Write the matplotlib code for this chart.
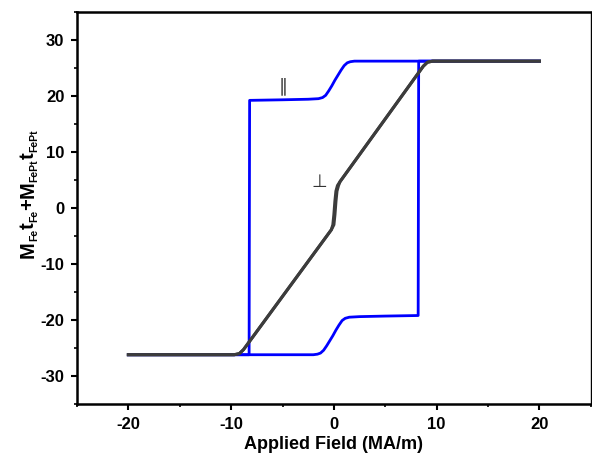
import matplotlib
matplotlib.use("Agg")
import matplotlib.pyplot as plt
from matplotlib.ticker import MultipleLocator

plt.rcParams['font.family'] = ['Liberation Sans', 'DejaVu Sans']
plt.rcParams['axes.unicode_minus'] = False

# Parallel (blue) loop: descending branch then ascending branch
par_down_x = [20, 2.0, 1.6, 1.3, 1.0, 0.7, 0.4, 0.1, -0.2, -0.5, -0.8, -1.1, -1.5, -2.5, -5.0, -8.2, -8.25, -20]
par_down_y = [26.2, 26.2, 26.1, 25.9, 25.4, 24.6, 23.7, 22.8, 21.8, 20.9, 20.1, 19.7, 19.5, 19.4, 19.3, 19.2, -26.2, -26.2]
par_up_x = [-20, -2.0, -1.6, -1.3, -1.0, -0.7, -0.4, -0.1, 0.2, 0.5, 0.8, 1.1, 1.5, 2.5, 5.0, 8.2, 8.25, 20]
par_up_y = [-26.2, -26.2, -26.1, -25.9, -25.4, -24.6, -23.7, -22.8, -21.8, -20.9, -20.1, -19.7, -19.5, -19.4, -19.3, -19.2, 26.2, 26.2]

# Perpendicular (gray) loop
perp_up_x = [-20, -9.7, -9.2, -8.8, -0.25, -0.1, 0.0, 0.1, 0.2, 0.35, 0.6, 8.7, 9.1, 9.6, 20]
perp_up_y = [-26.2, -26.2, -26.0, -25.3, -3.9, -3.0, -1.2, 1.2, 3.0, 4.0, 4.7, 25.3, 26.0, 26.2, 26.2]
perp_dn_x = [20, 9.6, 9.1, 8.7, 0.6, 0.45, 0.3, 0.2, 0.1, 0.0, -0.25, -8.8, -9.2, -9.7, -20]
perp_dn_y = [26.2, 26.2, 26.0, 25.3, 4.7, 4.0, 3.0, 1.2, -1.2, -3.0, -3.9, -25.3, -26.0, -26.2, -26.2]

xticks = [-20, -10, 0, 10, 20]
yticks = [-30, -20, -10, 0, 10, 20, 30]

# y-label pieces: (text, is_subscript)
ylabel_parts = [('M', False), ('Fe', True), ('t', False), ('Fe', True), ('+', False),
                ('M', False), ('FePt', True), ('t', False), ('FePt', True)]

fig = plt.figure(figsize=(5.92, 4.55), dpi=100)
ax = fig.add_axes([0.130, 0.112, 0.868, 0.862])

ax.plot(par_down_x, par_down_y, color='#0000ff', lw=2.0, solid_joinstyle='round')
ax.plot(par_up_x, par_up_y, color='#0000ff', lw=2.0, solid_joinstyle='round')
ax.plot(perp_up_x, perp_up_y, color='#3c3c3c', lw=2.2, solid_joinstyle='round')
ax.plot(perp_dn_x, perp_dn_y, color='#3c3c3c', lw=2.2, solid_joinstyle='round')

ax.text(-4.9, 21.8, '\u2225', fontsize=13, color='#333333', ha='center', va='center', family=['DejaVu Sans'])
ax.text(-1.45, 4.6, '\u22a5', fontsize=13, color='#333333', ha='center', va='center', family=['DejaVu Sans'])

ax.set_xlim(-25, 25)
ax.set_ylim(-35, 35)
ax.set_xticks(xticks)
ax.set_yticks(yticks)
ax.xaxis.set_minor_locator(MultipleLocator(5))
ax.yaxis.set_minor_locator(MultipleLocator(5))
ax.tick_params(which='major', direction='out', length=4.5, width=1.5, labelsize=12)
ax.tick_params(axis='x', which='major', pad=4.5)
ax.tick_params(axis='y', which='major', pad=4.5)
ax.tick_params(which='minor', direction='out', length=2.5, width=1.2)
for lab in ax.get_xticklabels() + ax.get_yticklabels():
    lab.set_fontweight('bold')

for s in ['left', 'bottom', 'top']:
    ax.spines[s].set_linewidth(1.8)
ax.spines['right'].set_linewidth(1.0)

ax.set_xlabel('Applied Field (MA/m)', fontsize=13, fontweight='bold', labelpad=3)

# Build the y-label piece by piece (large letters, small subscripts)
renderer = fig.canvas.get_renderer()
main_fs, sub_fs = 14.5, 7.5
x_base = 33.5        # pixels from left: baseline of main letters
x_sub = 37.5         # baseline of subscripts
y_cursor = 455 - 258  # pixels from bottom where label starts
for txt, sub in ylabel_parts:
    t = fig.text(x_sub if sub else x_base, y_cursor, txt, transform=None,
                 fontsize=sub_fs if sub else main_fs, fontweight='bold',
                 rotation=90, rotation_mode='anchor', ha='left', va='baseline')
    bb = t.get_window_extent(renderer)
    y_cursor += bb.height

fig.savefig('out.png', dpi=100)
